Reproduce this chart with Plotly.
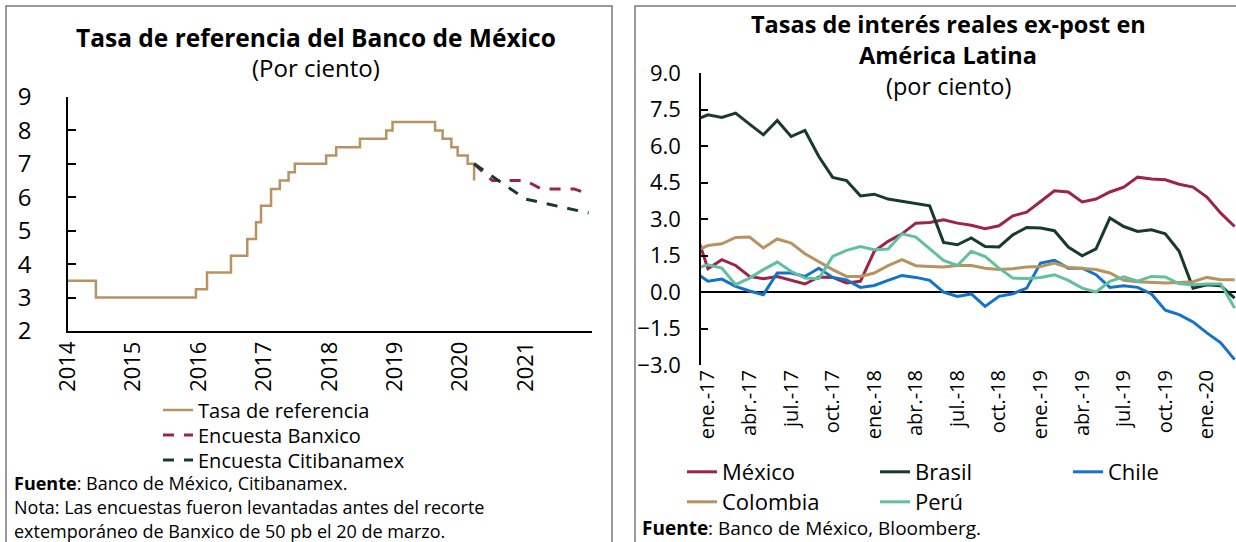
import plotly.graph_objects as go

W, H = 1236, 542
FONT = "Open Sans"

# ---------------- Left chart data ----------------
tasa_fechas = ["2014-01-01", "2014-06-06", "2015-12-17", "2016-02-17", "2016-06-30",
               "2016-09-29", "2016-11-17", "2016-12-15", "2017-02-09", "2017-03-30",
               "2017-05-18", "2017-06-22", "2017-12-14", "2018-02-08", "2018-06-21",
               "2018-11-15", "2018-12-20", "2019-08-15", "2019-09-26", "2019-11-14",
               "2019-12-19", "2020-02-13", "2020-03-20"]
tasa_valores = [3.50, 3.00, 3.25, 3.75, 4.25, 4.75, 5.25, 5.75, 6.25, 6.50,
                6.75, 7.00, 7.25, 7.50, 7.75, 8.00, 8.25, 8.00, 7.75, 7.50,
                7.25, 7.00, 6.50]

banxico_fechas = ["2020-03-20", "2020-06-30", "2020-12-31", "2021-03-31", "2021-09-30", "2021-12-20"]
banxico_valores = [7.00, 6.50, 6.50, 6.25, 6.25, 6.10]

citi_fechas = ["2020-03-20", "2020-12-31", "2021-12-20"]
citi_valores = [7.00, 5.95, 5.53]

anios_ticks = ["2014-01-01", "2015-01-01", "2016-01-01", "2017-01-01",
               "2018-01-01", "2019-01-01", "2020-01-01", "2021-01-01"]
anios_texto = ["2014", "2015", "2016", "2017", "2018", "2019", "2020", "2021"]

# ---------------- Right chart data (monthly, dic-16 .. mar-20) ----------------
meses = list(range(-1, 39))  # -1 = dic-16, 0 = ene-17, ..., 38 = mar-20
mexico = [2.68, 0.96, 1.33, 1.09, 0.64, 0.55, 0.64, 0.50, 0.33, 0.62, 0.60, 0.37, 0.44,
          1.67, 2.08, 2.39, 2.83, 2.86, 2.97, 2.83, 2.74, 2.60, 2.72, 3.13, 3.28,
          3.72, 4.16, 4.11, 3.70, 3.82, 4.11, 4.31, 4.72, 4.64, 4.61, 4.43, 4.31,
          3.90, 3.24, 2.69]
brasil = [7.06, 7.28, 7.17, 7.35, 6.90, 6.46, 7.05, 6.39, 6.64, 5.57, 4.71, 4.58, 3.95,
          4.02, 3.82, 3.72, 3.65, 3.54, 2.04, 1.94, 2.22, 1.87, 1.85, 2.35, 2.65,
          2.63, 2.52, 1.85, 1.49, 1.77, 3.04, 2.69, 2.49, 2.56, 2.39, 1.67, 0.16,
          0.30, 0.26, -0.25]
chile = [0.84, 0.44, 0.53, 0.23, 0.04, -0.11, 0.78, 0.78, 0.64, 0.98, 0.60, 0.50, 0.19,
         0.27, 0.48, 0.68, 0.60, 0.48, -0.01, -0.18, -0.08, -0.59, -0.18, -0.07, 0.16,
         1.19, 1.30, 0.98, 0.98, 0.71, 0.19, 0.26, 0.19, -0.08, -0.75, -0.93, -1.23,
         -1.68, -2.09, -2.78]
colombia = [1.65, 1.91, 1.98, 2.24, 2.26, 1.81, 2.18, 2.01, 1.57, 1.23, 0.92, 0.64, 0.64,
            0.78, 1.08, 1.33, 1.08, 1.05, 1.03, 1.09, 1.09, 0.98, 0.92, 0.96, 1.03,
            1.05, 1.19, 1.01, 0.98, 0.92, 0.78, 0.48, 0.42, 0.39, 0.37, 0.39, 0.42,
            0.60, 0.50, 0.50]
peru = [0.94, 1.12, 0.98, 0.30, 0.57, 0.92, 1.23, 0.85, 0.57, 0.55, 1.46, 1.71, 1.87,
        1.74, 1.77, 2.39, 2.26, 1.77, 1.30, 1.09, 1.67, 1.46, 0.98, 0.57, 0.55,
        0.60, 0.71, 0.48, 0.16, 0.00, 0.44, 0.62, 0.44, 0.64, 0.62, 0.34, 0.30,
        0.33, 0.33, -0.66]

mes_ticks = list(range(0, 37, 3))
mes_texto = ["ene.-17", "abr.-17", "jul.-17", "oct.-17", "ene.-18", "abr.-18", "jul.-18",
             "oct.-18", "ene.-19", "abr.-19", "jul.-19", "oct.-19", "ene.-20"]
y_ticks_izq = [2, 3, 4, 5, 6, 7, 8, 9]
y_ticks_der = [-3.0, -1.5, 0.0, 1.5, 3.0, 4.5, 6.0, 7.5, 9.0]

# colours
TAN = "#B8935F"
GUINDA = "#9D2449"
VERDE = "#173A2E"
AZUL = "#1373C8"
TEAL = "#62C09F"

fig = go.Figure()

# left traces
fig.add_trace(go.Scatter(x=tasa_fechas, y=tasa_valores, mode="lines", line_shape="hv",
                         line=dict(color=TAN, width=2.5), name="Tasa de referencia",
                         xaxis="x", yaxis="y", legend="legend"))
fig.add_trace(go.Scatter(x=banxico_fechas, y=banxico_valores, mode="lines",
                         line=dict(color=GUINDA, width=3, dash="11px,10px"), name="Encuesta Banxico",
                         xaxis="x", yaxis="y", legend="legend2"))
fig.add_trace(go.Scatter(x=citi_fechas, y=citi_valores, mode="lines",
                         line=dict(color=VERDE, width=3, dash="11px,10px"), name="Encuesta Citibanamex",
                         xaxis="x", yaxis="y", legend="legend3"))

# right traces
right_series = [("México", mexico, GUINDA, "legend4"),
                ("Brasil", brasil, VERDE, "legend5"),
                ("Chile", chile, AZUL, "legend6"),
                ("Colombia", colombia, TAN, "legend7"),
                ("Perú", peru, TEAL, "legend8")]
for nombre, vals, col, lg in right_series:
    fig.add_trace(go.Scatter(x=meses, y=vals, mode="lines", name=nombre,
                             line=dict(color=col, width=3),
                             xaxis="x2", yaxis="y2", legend=lg))


def leg(text_x, y_center, size):
    return dict(x=(text_x - 45) / W, xanchor="left", y=1 - y_center / H, yanchor="middle",
                orientation="v", font=dict(family=FONT, size=size, color="#000000"),
                bgcolor="rgba(0,0,0,0)", borderwidth=0)


fig.update_layout(
    width=W, height=H,
    margin=dict(l=0, r=0, t=0, b=0, autoexpand=False),
    paper_bgcolor="white", plot_bgcolor="white",
    font=dict(family=FONT, color="#000000"),
    xaxis=dict(domain=[68 / W, 592 / W], type="date",
               range=["2014-01-01", "2022-01-08"],
               tickvals=anios_ticks, ticktext=anios_texto, tickangle=-90,
               tickfont=dict(family=FONT, size=22, color="#000000"),
               showgrid=False, zeroline=False,
               showline=True, linecolor="#000000", linewidth=1.5, ticks="",
               anchor="y", automargin=False),
    yaxis=dict(domain=[1 - 331 / H, 1 - 97 / H], range=[2, 9],
               tickvals=y_ticks_izq,
               tickfont=dict(family=FONT, size=24, color="#000000"),
               showgrid=False, zeroline=False, showline=True, linecolor="#000000",
               linewidth=1.5, ticks="inside", ticklen=8, tickcolor="#000000",
               tickwidth=1.5, ticklabelstandoff=30, anchor="x", automargin=False),
    xaxis2=dict(domain=[701 / W, 1.0], range=[-0.5, 38.1],
                tickvals=mes_ticks, ticktext=mes_texto, tickangle=-90,
                tickfont=dict(family=FONT, size=20, color="#000000"),
                showgrid=False, zeroline=False, showline=False,
                ticks="", anchor="y2", automargin=False),
    yaxis2=dict(domain=[1 - 365 / H, 1 - 73 / H], range=[-3, 9],
                tickvals=y_ticks_der, tickformat=".1f",
                tickfont=dict(family=FONT, size=22, color="#000000"),
                showgrid=False, zeroline=True, zerolinecolor="#000000", zerolinewidth=2,
                showline=True, linecolor="#000000", linewidth=1.5,
                ticks="inside", ticklen=7, tickcolor="#000000", tickwidth=1.5,
                ticklabelstandoff=14, anchor="x2", automargin=False),
    legend=leg(203, 410, 20),
    legend2=leg(203, 435, 20),
    legend3=leg(203, 460, 20),
    legend4=leg(727, 472, 22),
    legend5=leg(920, 472, 22),
    legend6=leg(1113, 472, 22),
    legend7=leg(727, 502, 22),
    legend8=leg(920, 502, 22),
    showlegend=True,
)

# panel borders
fig.add_shape(type="rect", xref="paper", yref="paper", x0=6 / W, x1=612 / W,
              y0=-0.02, y1=1 - 6 / H, line=dict(color="#7a7a7a", width=1.5), layer="below")
fig.add_shape(type="rect", xref="paper", yref="paper", x0=635 / W, x1=1.02,
              y0=-0.02, y1=1 - 6 / H, line=dict(color="#7a7a7a", width=1.5), layer="below")


def ann(text, x, y, size, xanchor="center", bold=False):
    fig.add_annotation(text=f"<b>{text}</b>" if bold else text, xref="paper", yref="paper",
                       x=x / W, y=1 - y / H, xanchor=xanchor, yanchor="middle",
                       showarrow=False, font=dict(family=FONT, size=size, color="#000000"))


# titles
ann("Tasa de referencia del Banco de México", 316, 38, 24.5, bold=True)
ann("(Por ciento)", 316, 68, 24)
ann("Tasas de interés reales ex-post en", 948, 23.5, 23.5, bold=True)
ann("América Latina", 948, 55, 23.5, bold=True)
ann("(por ciento)", 948, 86, 23.5)

# sources / notes
ann("<b>Fuente</b>: Banco de México, Citibanamex.", 12, 483, 18, xanchor="left")
ann("Nota: Las encuestas fueron levantadas antes del recorte", 12, 507, 18, xanchor="left")
ann("extemporáneo de Banxico de 50 pb el 20 de marzo.", 12, 530.5, 18, xanchor="left")
ann("<b>Fuente</b>: Banco de México, Bloomberg.", 640, 528, 19, xanchor="left")

fig.write_html("out.html", config={"displayModeBar": False},
               post_script="document.body.style.margin='0px';document.body.style.overflow='hidden';")
